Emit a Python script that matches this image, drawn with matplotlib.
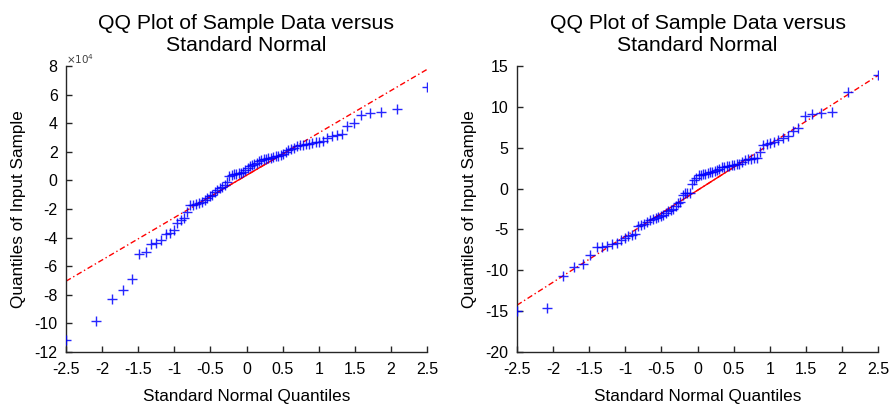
import numpy as np
import matplotlib
matplotlib.use("Agg")
import matplotlib.pyplot as plt

plt.rcParams['font.family'] = ['Liberation Sans', 'DejaVu Sans']

# Standard normal quantiles for n = 80 ((i-0.5)/n plotting positions)
normal_quantiles = [
    -2.498, -2.080, -1.863, -1.709, -1.587, -1.485, -1.396, -1.318, -1.247, -1.181,
    -1.120, -1.064, -1.010, -0.959, -0.910, -0.864, -0.820, -0.776, -0.735, -0.694,
    -0.655, -0.617, -0.579, -0.543, -0.507, -0.471, -0.437, -0.402, -0.369, -0.335,
    -0.302, -0.269, -0.237, -0.205, -0.173, -0.142, -0.110, -0.078, -0.047, -0.016,
    0.016, 0.047, 0.078, 0.110, 0.142, 0.173, 0.205, 0.237, 0.269, 0.302,
    0.335, 0.369, 0.402, 0.437, 0.471, 0.507, 0.543, 0.579, 0.617, 0.655,
    0.694, 0.735, 0.776, 0.820, 0.864, 0.910, 0.959, 1.010, 1.064, 1.120,
    1.181, 1.247, 1.318, 1.396, 1.485, 1.587, 1.709, 1.863, 2.080, 2.498,
]

# Left panel sample quantiles (in units of 1e4)
sample_left_e4 = [
    -11.15, -9.85, -8.30, -7.65, -6.92, -5.15, -5.00, -4.43, -4.40, -4.20,
    -3.72, -3.70, -3.50, -2.98, -2.80, -2.60, -2.20, -1.75, -1.72, -1.65,
    -1.60, -1.53, -1.40, -1.20, -1.10, -1.00, -0.80, -0.70, -0.55, -0.45,
    -0.30, -0.10, 0.30, 0.38, 0.42, 0.47, 0.50, 0.55, 0.60, 0.70,
    0.90, 1.00, 1.10, 1.15, 1.25, 1.35, 1.42, 1.48, 1.52, 1.56,
    1.60, 1.64, 1.68, 1.72, 1.76, 1.85, 2.00, 2.10, 2.20, 2.30,
    2.40, 2.45, 2.50, 2.55, 2.58, 2.62, 2.66, 2.72, 2.78, 2.95,
    3.10, 3.15, 3.25, 3.80, 4.00, 4.55, 4.70, 4.80, 4.97, 6.50,
]

# Right panel sample quantiles
sample_right = [
    -15.0, -14.6, -10.7, -9.6, -9.2, -8.1, -7.2, -7.1, -7.0, -6.75,
    -6.6, -6.3, -6.1, -5.8, -5.7, -5.6, -4.6, -4.4, -4.3, -4.1,
    -3.9, -3.75, -3.6, -3.5, -3.35, -3.2, -3.0, -2.8, -2.65, -2.5,
    -2.1, -1.8, -1.6, -0.75, -0.6, -0.55, -0.5, 0.6, 1.0, 1.3,
    1.6, 1.7, 1.75, 1.8, 1.9, 2.0, 2.05, 2.15, 2.3, 2.45,
    2.6, 2.7, 2.75, 2.8, 2.85, 2.9, 2.95, 3.05, 3.2, 3.5,
    3.6, 3.65, 3.7, 3.75, 4.5, 5.3, 5.4, 5.6, 5.75, 5.9,
    6.2, 6.4, 7.1, 7.4, 8.9, 9.1, 9.2, 9.35, 11.8, 13.9,
]

left_yticks = [-12, -10, -8, -6, -4, -2, 0, 2, 4, 6, 8]
right_yticks = [-20, -15, -10, -5, 0, 5, 10, 15]
xticks = [-2.5, -2, -1.5, -1, -0.5, 0, 0.5, 1, 1.5, 2, 2.5]

title = "QQ Plot of Sample Data versus\nStandard Normal"
xlabel = "Standard Normal Quantiles"
ylabel = "Quantiles of Input Sample"

fig = plt.figure(figsize=(8.93, 4.05), dpi=100)
W, H = 893, 405


def add_axes(x0, x1, y0, y1):
    return fig.add_axes([x0 / W, 1 - y1 / H, (x1 - x0) / W, (y1 - y0) / H])


def qq(ax, xq, yq, ylim, yticks):
    xq = np.asarray(xq)
    yq = np.asarray(yq)
    q1x, q3x = np.percentile(xq, [25, 75])
    q1y, q3y = np.percentile(yq, [25, 75])
    slope = (q3y - q1y) / (q3x - q1x)
    icpt = q1y - slope * q1x
    xl = np.array([-2.5, 2.5])
    ax.plot(xl, icpt + slope * xl, color='red', lw=1.0,
            linestyle=(0, (4, 2, 1, 2)), zorder=2)
    xs = np.array([q1x, q3x])
    ax.plot(xs, icpt + slope * xs, color='red', lw=1.0, linestyle='-', zorder=2)
    ax.plot(xq, yq, linestyle='none', marker='+', color=(0, 0, 1),
            markersize=7, markeredgewidth=1.0, alpha=0.85, zorder=3)
    ax.set_xlim(-2.5, 2.5)
    ax.set_ylim(*ylim)
    ax.set_xticks(xticks)
    ax.set_xticklabels([('%g' % t) for t in xticks])
    ax.set_yticks(yticks)
    ax.set_yticklabels([('%g' % t) for t in yticks])
    for s in ('top', 'right'):
        ax.spines[s].set_visible(False)
    for s in ('left', 'bottom'):
        ax.spines[s].set_linewidth(1.0)
        ax.spines[s].set_color('#262626')
    ax.tick_params(direction='in', length=4, width=1.0, labelsize=11.5,
                   colors='#262626', labelcolor='black')
    ax.tick_params(axis='x', pad=7)
    ax.tick_params(axis='y', pad=6)
    ax.set_title(title, fontsize=15.3, pad=11, linespacing=1.15)
    ax.set_xlabel(xlabel, fontsize=12.3, labelpad=9)
    ax.set_ylabel(ylabel, fontsize=12.3, labelpad=6)


ax1 = add_axes(66, 427, 66, 352)
qq(ax1, normal_quantiles, sample_left_e4, (-12, 8), left_yticks)
ax1.text(0.0, 1.0, r'$\times10^{4}$', transform=ax1.transAxes, fontsize=7.5,
         ha='left', va='bottom', color='#404040')

ax2 = add_axes(517, 878, 66, 352)
qq(ax2, normal_quantiles, sample_right, (-20, 15), right_yticks)

fig.savefig('out.png', dpi=100)
